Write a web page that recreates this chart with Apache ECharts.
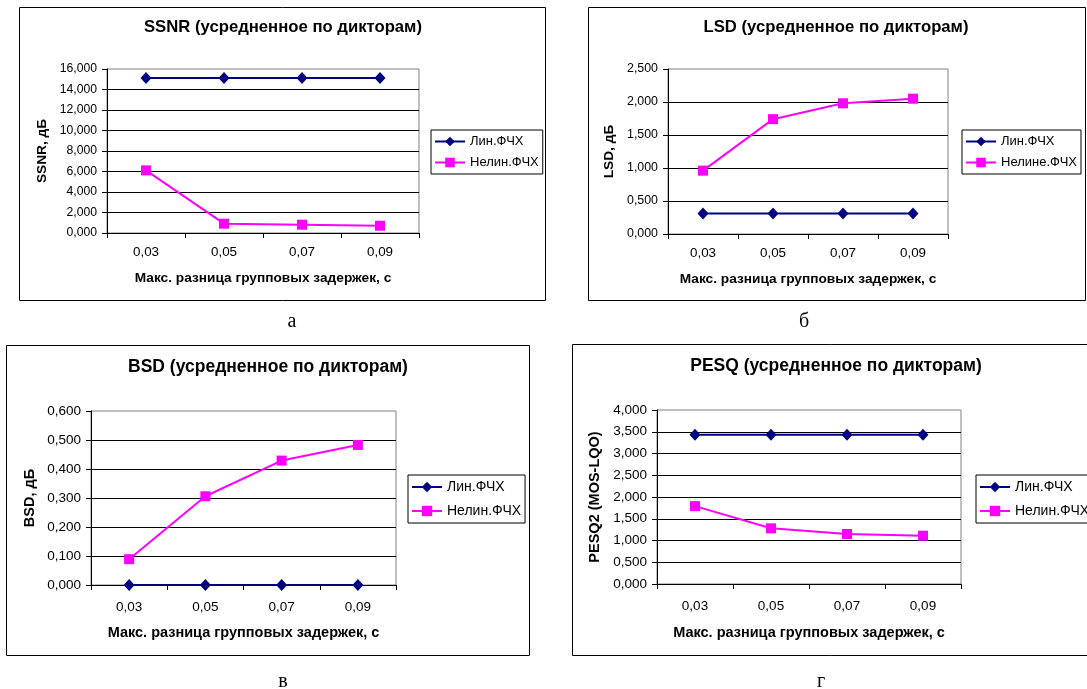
<!DOCTYPE html>
<html><head><meta charset="utf-8">
<script src="https://cdn.jsdelivr.net/npm/echarts@6/dist/echarts.min.js"></script>
<style>html,body{margin:0;padding:0;background:#fff;} #c{width:1087px;height:689px;}</style>
</head><body><div id="c"></div>
<script>
// ---- data ----
const categories = ['0,03', '0,05', '0,07', '0,09'];
const ssnrLin   = [15.12, 15.12, 15.12, 15.12];
const ssnrNelin = [6.11, 0.91, 0.81, 0.71];
const lsdLin    = [0.31, 0.31, 0.31, 0.31];
const lsdNelin  = [0.96, 1.74, 1.98, 2.05];
const bsdLin    = [0, 0, 0, 0];
const bsdNelin  = [0.089, 0.306, 0.429, 0.483];
const pesqLin   = [3.43, 3.43, 3.43, 3.43];
const pesqNelin = [1.79, 1.28, 1.15, 1.11];
const titles = ['SSNR (усредненное по дикторам)', 'LSD (усредненное по дикторам)', 'BSD (усредненное по дикторам)', 'PESQ (усредненное по дикторам)'];
const yNames = ['SSNR, дБ', 'LSD, дБ', 'BSD, дБ', 'PESQ2 (MOS-LQO)'];
const xName = 'Макс. разница групповых задержек, с';
const linNames = ['Лин.ФЧХ', 'Лин.ФЧХ', 'Лин.ФЧХ', 'Лин.ФЧХ'];
const nelinNames = ['Нелин.ФЧХ', 'Нелине.ФЧХ', 'Нелин.ФЧХ', 'Нелин.ФЧХ'];
const yMax = [16, 2.5, 0.6, 4];
const yStep = [2, 0.5, 0.1, 0.5];
const captions = ['а', 'б', 'в', 'г'];

const linData = [ssnrLin, lsdLin, bsdLin, pesqLin];
const nelinData = [ssnrNelin, lsdNelin, bsdNelin, pesqNelin];

// ---- layout ----
const F = 'Liberation Sans, Arial, sans-serif';
const L = [
  {grid: {left: 107, top: 69, width: 312, height: 164}, frame: [19.5, 7.5, 526, 293], title: [283, 19], tfs: 16.7, legend: [431, 130], fs: 12.2, xfs: 13.4, lfs: 13, lh: 12, lg: 8, nfs: 13.7, yGap: 58, xGap: 38, lm: 13, cap: [292, 322]},
  {grid: {left: 668, top: 69, width: 280, height: 165}, frame: [588.5, 7.5, 497, 293], title: [836, 19], tfs: 16.7, legend: [962, 130], fs: 12.4, xfs: 13.4, lfs: 13, lh: 12, lg: 8, nfs: 13.7, yGap: 52, xGap: 38, lm: 13, cap: [804, 322]},
  {grid: {left: 91, top: 411, width: 305, height: 174}, frame: [6.5, 345.5, 523, 310], title: [268, 358], tfs: 17.5, legend: [408, 475], fs: 13.5, xfs: 13.5, lfs: 14, lh: 13, lg: 10, nfs: 14.5, yGap: 54, xGap: 40, lm: 15, cap: [283, 682]},
  {grid: {left: 657, top: 410, width: 304, height: 174}, frame: [572.5, 344.5, 540, 311], title: [836, 357], tfs: 17.5, legend: [976, 475], fs: 13.5, xfs: 13.5, lfs: 14, lh: 13, lg: 10, nfs: 14.5, yGap: 55, xGap: 41, lm: 15, cap: [821, 682]}
];

const fmt = v => v.toFixed(3).replace('.', ',');

const option = {
  animation: false,
  backgroundColor: '#fff',
  title: [], legend: [], grid: [], xAxis: [], yAxis: [], series: [], graphic: []
};

L.forEach((c, i) => {
  option.graphic.push({type: 'rect', shape: {x: c.frame[0], y: c.frame[1], width: c.frame[2], height: c.frame[3]},
    style: {fill: null, stroke: '#000', lineWidth: 1}, silent: true, z: 0});
  option.graphic.push({type: 'text', x: c.cap[0], y: c.cap[1],
    style: {text: captions[i], font: '20px "Liberation Serif", "Times New Roman", serif', fill: '#000', textAlign: 'center', textVerticalAlign: 'middle'}});
  option.title.push({text: titles[i], left: c.title[0], top: c.title[1], textAlign: 'center', padding: 0,
    textStyle: {fontFamily: F, fontSize: c.tfs, fontWeight: 'bold', color: '#000'}});
  option.grid.push(Object.assign({show: true, borderColor: '#808080', borderWidth: 1, backgroundColor: '#fff', containLabel: false}, c.grid));
  option.xAxis.push({type: 'category', gridIndex: i, data: categories, boundaryGap: true,
    axisLine: {lineStyle: {color: '#000', width: 1}},
    axisTick: {show: true, length: 5, lineStyle: {color: '#000'}},
    axisLabel: {color: '#000', fontFamily: F, fontSize: c.xfs, margin: c.lm},
    splitLine: {show: false},
    name: xName, nameLocation: 'middle', nameGap: c.xGap,
    nameTextStyle: {fontFamily: F, fontSize: c.nfs, fontWeight: 'bold', color: '#000'}});
  option.yAxis.push({type: 'value', gridIndex: i, min: 0, max: yMax[i], interval: yStep[i],
    axisLine: {show: true, lineStyle: {color: '#000', width: 1}},
    axisTick: {show: true, length: 5, lineStyle: {color: '#000'}},
    axisLabel: {color: '#000', fontFamily: F, fontSize: c.fs, margin: 10, formatter: fmt},
    splitLine: {show: true, showMaxLine: false, lineStyle: {color: '#000', width: 1}},
    name: yNames[i], nameLocation: 'middle', nameGap: c.yGap,
    nameTextStyle: {fontFamily: F, fontSize: c.nfs, fontWeight: 'bold', color: '#000'}});
  option.series.push({type: 'line', name: linNames[i], xAxisIndex: i, yAxisIndex: i, data: linData[i],
    color: '#000080', symbol: 'diamond', symbolSize: [11, 12], showAllSymbol: true,
    lineStyle: {color: '#000080', width: 2}, itemStyle: {color: '#000080'}, z: 3});
  option.series.push({type: 'line', name: nelinNames[i], xAxisIndex: i, yAxisIndex: i, data: nelinData[i],
    color: '#FF00FF', symbol: 'rect', symbolSize: 10, showAllSymbol: true,
    lineStyle: {color: '#FF00FF', width: 2}, itemStyle: {color: '#FF00FF'}, z: 4});
  option.legend.push({orient: 'vertical', left: c.legend[0], top: c.legend[1], data: [linNames[i], nelinNames[i]],
    padding: [5, 4, 5, 3], itemWidth: 30, itemHeight: c.lh, itemGap: c.lg,
    borderColor: '#000', borderWidth: 1, backgroundColor: '#fff', selectedMode: false,
    textStyle: {fontFamily: F, fontSize: c.lfs, color: '#000'}});
});

const chart = echarts.init(document.getElementById('c'), null, {renderer: 'canvas'});
chart.setOption(option);
</script>
</body></html>
